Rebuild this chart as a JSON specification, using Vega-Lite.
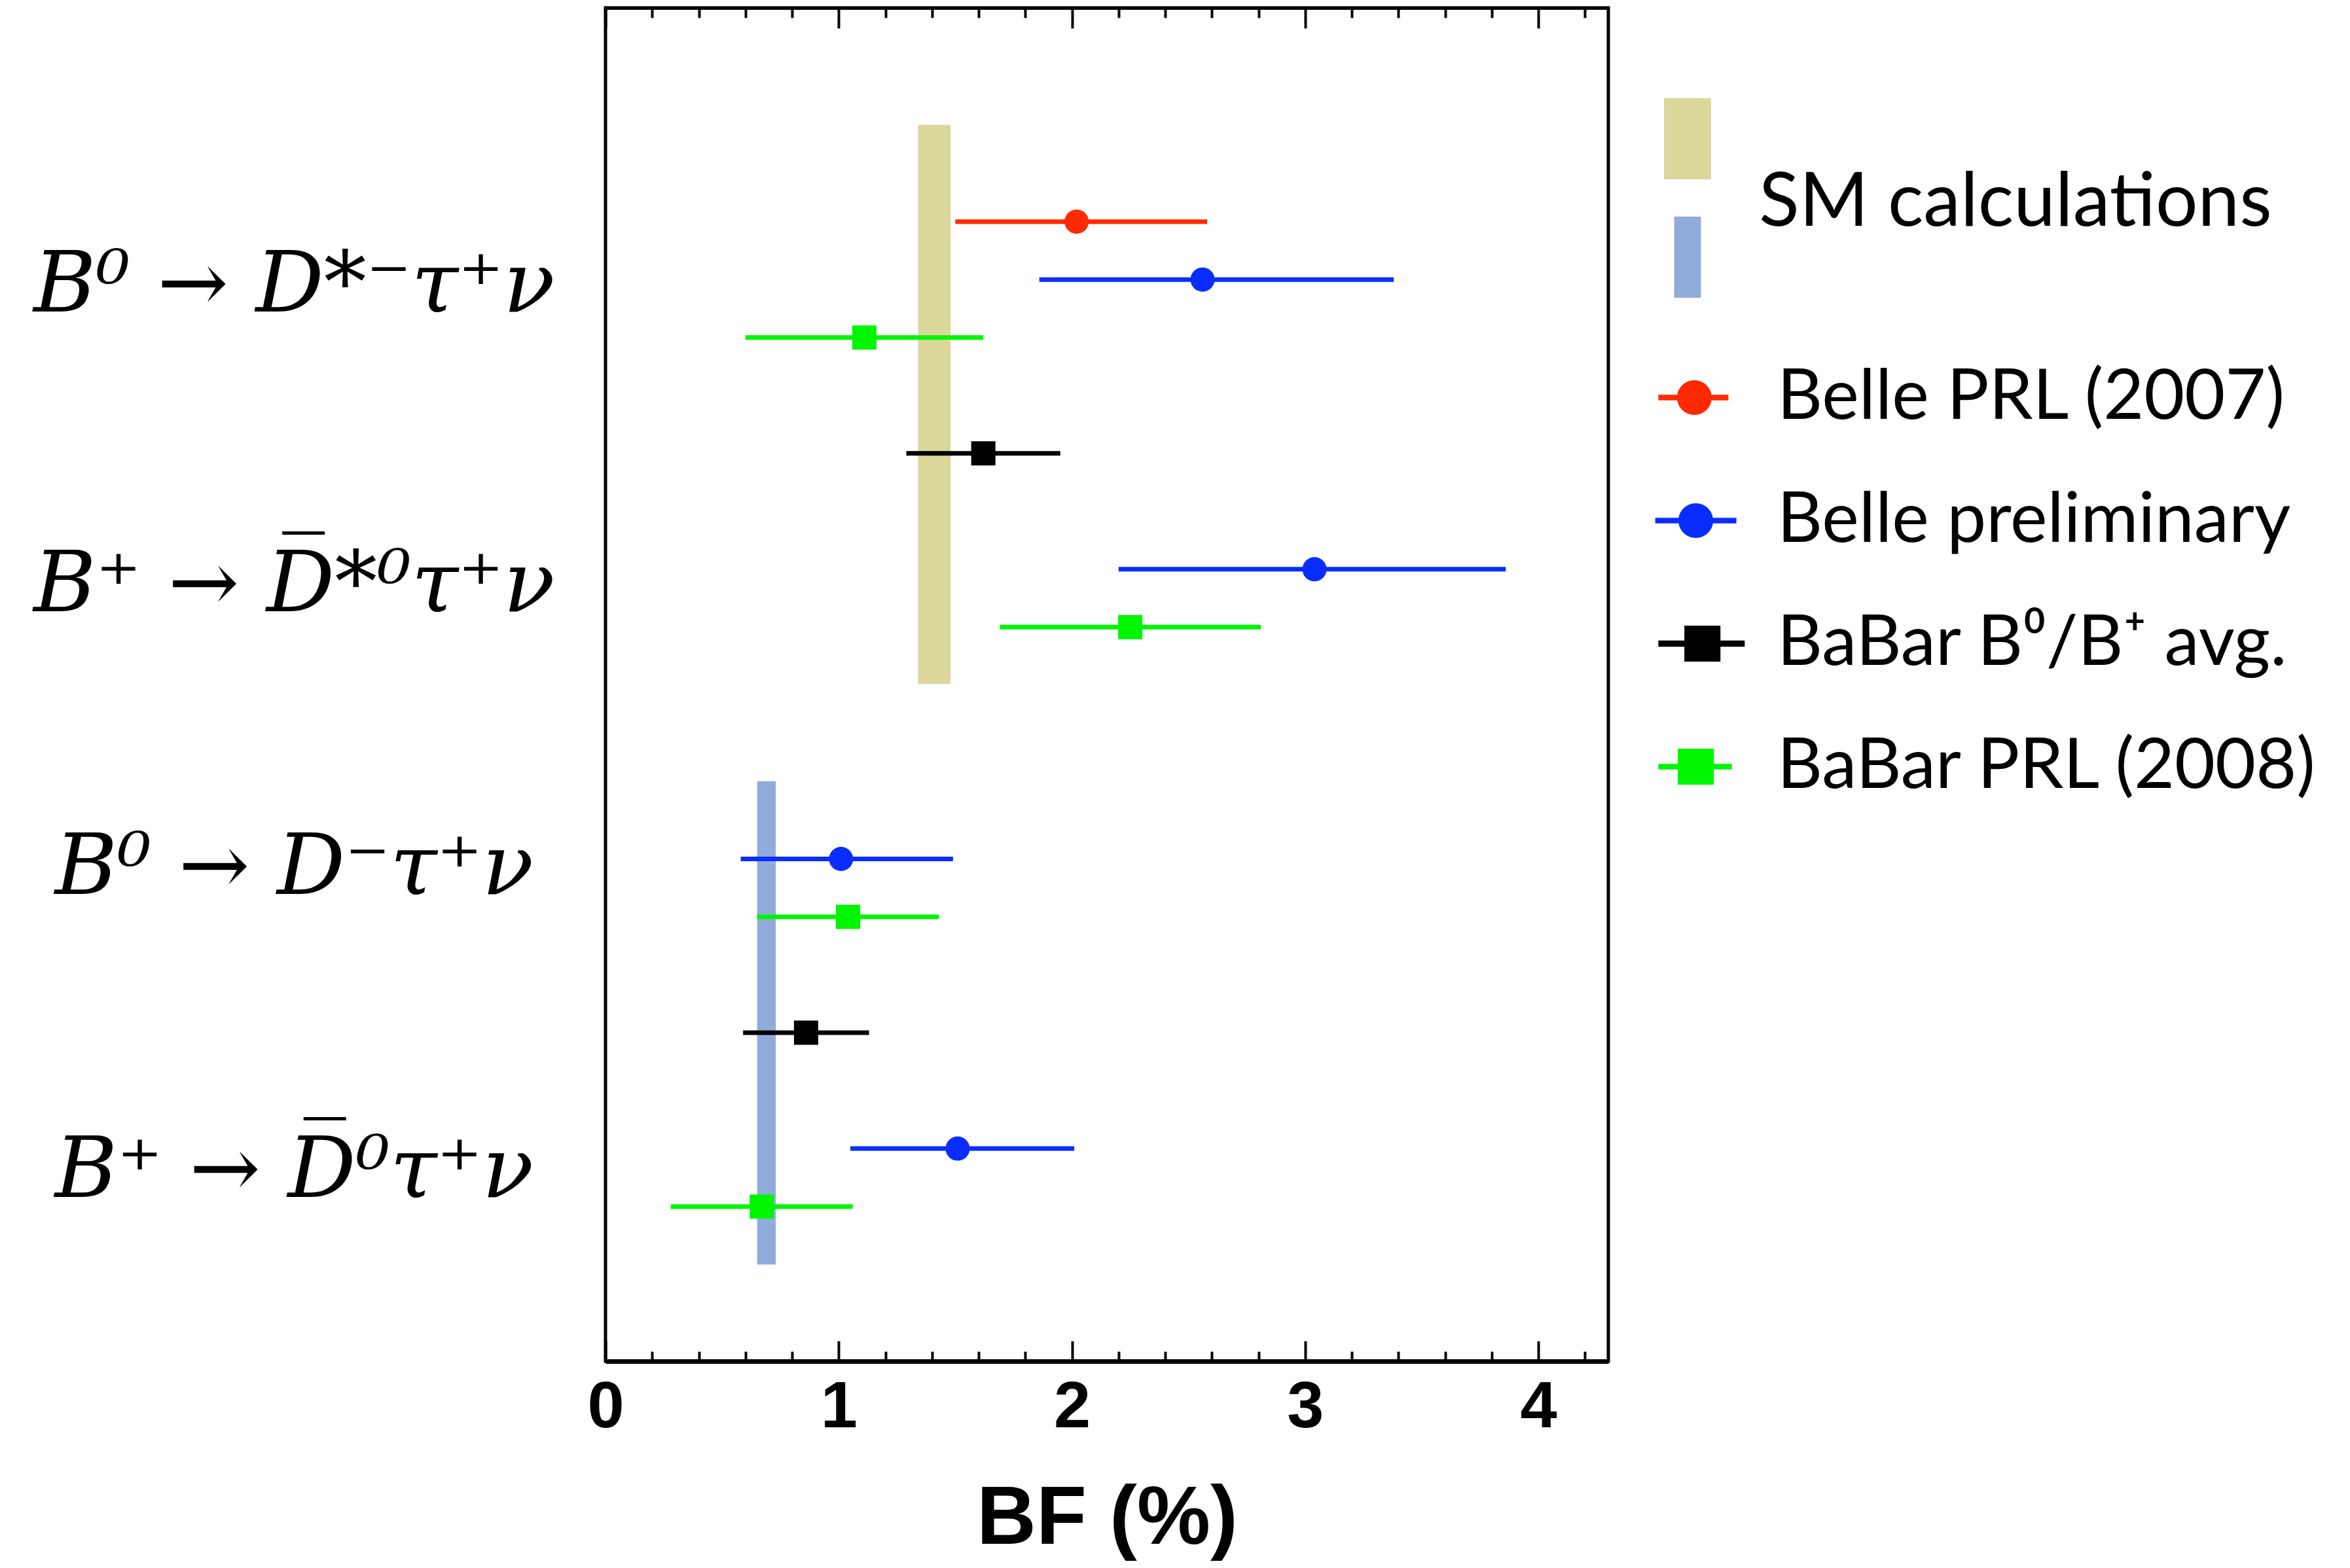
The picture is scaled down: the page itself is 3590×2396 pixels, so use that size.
{
  "$schema": "https://vega.github.io/schema/vega-lite/v6.json",
  "autosize": {"type": "none"},
  "width": 1532,
  "height": 2068,
  "padding": {"left": 925, "top": 12, "right": 1133, "bottom": 316},
  "background": "white",
  "config": {
    "view": {"stroke": "black", "strokeWidth": 5},
    "axis": {"grid": false}
  },
  "datasets": {
    "meas": [
      {"exp": "Belle PRL (2007)", "pos": 0, "bf": 2.02, "lo": 1.50, "hi": 2.58},
      {"exp": "Belle preliminary", "pos": 1, "bf": 2.56, "lo": 1.86, "hi": 3.38},
      {"exp": "BaBar PRL (2008)", "pos": 2, "bf": 1.11, "lo": 0.60, "hi": 1.62},
      {"exp": "BaBar B\u2070/B\u207a avg.", "pos": 4, "bf": 1.62, "lo": 1.29, "hi": 1.95},
      {"exp": "Belle preliminary", "pos": 6, "bf": 3.04, "lo": 2.20, "hi": 3.86},
      {"exp": "BaBar PRL (2008)", "pos": 7, "bf": 2.25, "lo": 1.69, "hi": 2.81},
      {"exp": "Belle preliminary", "pos": 11, "bf": 1.01, "lo": 0.58, "hi": 1.49},
      {"exp": "BaBar PRL (2008)", "pos": 12, "bf": 1.04, "lo": 0.65, "hi": 1.43},
      {"exp": "BaBar B\u2070/B\u207a avg.", "pos": 14, "bf": 0.86, "lo": 0.59, "hi": 1.13},
      {"exp": "Belle preliminary", "pos": 16, "bf": 1.51, "lo": 1.05, "hi": 2.01},
      {"exp": "BaBar PRL (2008)", "pos": 17, "bf": 0.67, "lo": 0.28, "hi": 1.06}
    ],
    "sm": [
      {"kind": "D*", "lo": 1.34, "hi": 1.48, "top": -1.67, "bot": 7.98},
      {"kind": "D", "lo": 0.65, "hi": 0.73, "top": 9.66, "bot": 18.0}
    ]
  },
  "resolve": {"axis": {"x": "independent"}},
  "layer": [
    {
      "data": {"name": "sm"},
      "mark": {"type": "rect"},
      "encoding": {
        "x": {
          "field": "lo", "type": "quantitative",
          "scale": {"domain": [0, 4.3], "nice": false, "zero": false},
          "axis": {
            "orient": "bottom",
            "values": [0, 0.2, 0.4, 0.6, 0.8, 1, 1.2, 1.4, 1.6, 1.8, 2, 2.2, 2.4, 2.6, 2.8, 3, 3.2, 3.4, 3.6, 3.8, 4, 4.2],
            "tickSize": {"condition": {"test": "abs(datum.value - round(datum.value)) < 0.001", "value": -31}, "value": -15},
            "tickWidth": 4, "tickColor": "black",
            "domainColor": "black", "domainWidth": 7,
            "labelExpr": "abs(datum.value - round(datum.value)) < 0.001 ? format(datum.value, 'd') : ''",
            "labelFont": "Liberation Sans", "labelFontWeight": "bold", "labelFontSize": 101, "labelColor": "black",
            "labelPadding": 51, "labelOverlap": false, "labelFlush": false, "labelBaseline": "top",
            "title": "BF (%)", "titleFont": "Liberation Sans Narrow, Liberation Sans", "titleFontSize": 126, "titleFontWeight": "bold",
            "titleColor": "black", "titlePadding": 42
          }
        },
        "x2": {"field": "hi"},
        "y": {
          "field": "top", "type": "quantitative",
          "scale": {"domain": [-3.69, 19.67], "reverse": true, "nice": false, "zero": false},
          "axis": {
            "orient": "left", "values": [1.107, 6.28, 11.16, 16.39],
            "ticks": false, "tickSize": 0, "domain": false,
            "labelExpr": "datum.value < 3 ? 'B\u2070 \u2192 D*\u207b\u03c4\u207a\u03bd' : datum.value < 9 ? 'B\u207a \u2192 D\u0305*\u2070\u03c4\u207a\u03bd' : datum.value < 13 ? 'B\u2070 \u2192 D\u207b\u03c4\u207a\u03bd' : 'B\u207a \u2192 D\u0305\u2070\u03c4\u207a\u03bd'",
            "labelAlign": "center", "labelBaseline": "middle", "labelPadding": 476,
            "labelFont": "DejaVu Serif", "labelFontStyle": "italic", "labelFontSize": 130, "labelColor": "black",
            "labelOverlap": false, "labelBound": false, "labelLimit": 2000, "title": null
          }
        },
        "y2": {"field": "bot"},
        "fill": {
          "field": "kind", "type": "nominal",
          "scale": {"domain": ["D*", "D"], "range": ["#dbd79b", "#91acdb"]},
          "legend": {
            "orient": "none", "legendX": 1591, "legendY": 138, "direction": "vertical",
            "title": "SM calculations", "titleOrient": "right", "titleAnchor": "middle", "titleBaseline": "middle",
            "titleFont": "Lato", "titleFontSize": 114, "titleFontWeight": "normal", "titleColor": "black",
            "titlePadding": 47, "titleLimit": 2000,
            "symbolSize": 15376, "rowPadding": 57, "labelExpr": "''", "labelOffset": 0, "padding": 0,
            "encode": {
              "symbols": {
                "update": {
                  "shape": {"signal": "datum.value == 'D*' ? 'M-0.58,-1H0.58V1H-0.58Z' : 'M-0.33,-1H0.33V1H-0.33Z'"},
                  "fill": {"signal": "scale('fill', datum.value)"},
                  "stroke": {"value": "transparent"},
                  "strokeWidth": {"value": 0},
                  "opacity": {"value": 1},
                  "fillOpacity": {"value": 1}
                }
              },
              "title": {"update": {"dy": {"value": 8}}}
            }
          }
        }
      }
    },
    {
      "data": {"name": "meas"},
      "mark": {"type": "rule", "strokeWidth": 7},
      "encoding": {
        "x": {
          "field": "lo", "type": "quantitative",
          "axis": {
            "orient": "top",
            "values": [0, 0.2, 0.4, 0.6, 0.8, 1, 1.2, 1.4, 1.6, 1.8, 2, 2.2, 2.4, 2.6, 2.8, 3, 3.2, 3.4, 3.6, 3.8, 4, 4.2],
            "tickSize": {"condition": {"test": "abs(datum.value - round(datum.value)) < 0.001", "value": -31}, "value": -15},
            "tickWidth": 4, "tickColor": "black",
            "domainColor": "black", "domainWidth": 5,
            "labels": false, "title": null
          }
        },
        "x2": {"field": "hi"},
        "y": {"field": "pos", "type": "quantitative"},
        "color": {
          "field": "exp", "type": "nominal",
          "scale": {
            "domain": ["Belle PRL (2007)", "Belle preliminary", "BaBar B\u2070/B\u207a avg.", "BaBar PRL (2008)"],
            "range": ["#ff2a00", "#0a2dff", "#000000", "#00f500"]
          },
          "legend": {
            "orient": "none", "legendX": 1610, "legendY": 542, "direction": "vertical", "title": null,
            "symbolSize": 11236, "rowPadding": 80, "labelOffset": 73,
            "labelFont": "Lato", "labelFontSize": 107, "labelColor": "black", "labelLimit": 2000, "padding": 0,
            "encode": {
              "symbols": {
                "update": {
                  "shape": {"signal": "datum.value == 'Belle PRL (2007)' ? 'M-1.04,-0.08H0.98V0.08H-1.04Z M-0.5,0A0.5,0.5 0 1,1 0.5,0A0.5,0.5 0 1,1 -0.5,0Z' : datum.value == 'Belle preliminary' ? 'M-1.13,-0.08H1.21V0.08H-1.13Z M-0.46,0A0.5,0.5 0 1,1 0.54,0A0.5,0.5 0 1,1 -0.46,0Z' : indexof(datum.value, 'avg') >= 0 ? 'M-1.04,-0.09H1.45V0.09H-1.04Z M-0.29,-0.52H0.75V0.52H-0.29Z' : 'M-1.04,-0.08H1.08V0.08H-1.04Z M-0.48,-0.52H0.56V0.52H-0.48Z'"},
                  "fill": {"signal": "scale('color', datum.value)"},
                  "stroke": {"value": "transparent"},
                  "strokeWidth": {"value": 0},
                  "opacity": {"value": 1},
                  "fillOpacity": {"value": 1}
                }
              }
            }
          }
        }
      }
    },
    {
      "data": {"name": "meas"},
      "transform": [{"filter": "indexof(datum.exp, 'Belle') == 0"}],
      "mark": {"type": "point", "shape": "circle", "filled": true, "opacity": 1, "size": 1369},
      "encoding": {
        "x": {"field": "bf", "type": "quantitative", "axis": null},
        "y": {"field": "pos", "type": "quantitative"},
        "color": {"field": "exp", "type": "nominal"}
      }
    },
    {
      "data": {"name": "meas"},
      "transform": [{"filter": "indexof(datum.exp, 'BaBar') == 0"}],
      "mark": {"type": "point", "shape": "square", "filled": true, "opacity": 1, "size": 1369},
      "encoding": {
        "x": {"field": "bf", "type": "quantitative", "axis": null},
        "y": {"field": "pos", "type": "quantitative"},
        "color": {"field": "exp", "type": "nominal"}
      }
    }
  ]
}
